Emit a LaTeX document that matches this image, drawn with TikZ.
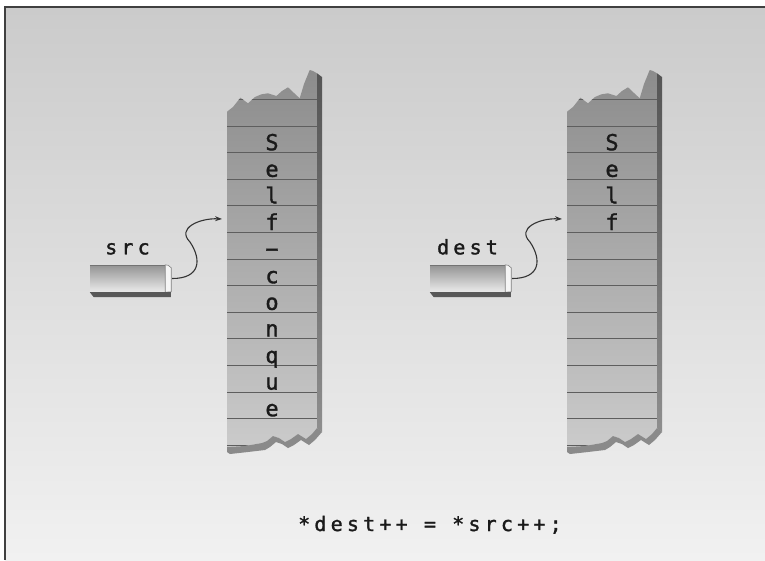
\documentclass[tikz,border=0pt]{standalone}
\usepackage{fontspec}
\usetikzlibrary{positioning,arrows.meta}
\newfontfamily\codigo[LetterSpace=21,FakeBold=1.5]{DejaVu Sans Mono}
\newfontfamily\celula[FakeBold=1.5]{DejaVu Sans Mono}
\definecolor{fundoTopo}{HTML}{CBCBCB}
\definecolor{fundoBase}{HTML}{F1F1F1}
\definecolor{memTopo}{HTML}{8A8A8A}
\definecolor{memBase}{HTML}{CDCDCD}
\definecolor{linha}{HTML}{5E5E5E}
\definecolor{lateralTopo}{HTML}{555555}
\definecolor{lateralBase}{HTML}{8E8E8E}
\definecolor{sombra}{HTML}{8A8A8A}
\definecolor{texto}{HTML}{1A1A1A}
\definecolor{corSeta}{HTML}{333333}
\tikzset{
  ponteiro/.style={minimum width=75pt, minimum height=27pt, inner sep=0pt,
    top color=black!42, bottom color=black!8},
  rotulo/.style={font=\codigo\fontsize{20}{24}\selectfont, text=texto, inner sep=0pt},
  letra/.style={font=\celula\fontsize{22}{26}\selectfont, text=texto, inner sep=0pt, anchor=base},
  apontar/.style={-{Stealth[length=7pt,width=5pt]}, line width=1.1pt, draw=corSeta},
}
\begin{document}
\begin{tikzpicture}[x=1pt,y=-1pt]
    \useasboundingbox (0,0) rectangle (765,560);
    % Fundo
    \fill[white] (0,0) rectangle (765,560);
    \shade[top color=fundoTopo,bottom color=fundoBase] (5,7) rectangle (765,560);
    \draw[line width=1.5pt,black!75] (5,560) -- (5,7) -- (765,7);
    % Colunas de memoria
    \foreach \xc in {227,567} {
      \begin{scope}[xshift=\xc pt]
        \begin{scope}
          \clip (0,111.7) -- (6,107) -- (13.4,97.7) -- (21,103.3) -- (28,97) -- (34.4,94.3)
            -- (41,93.3) -- (49.4,96) -- (55,91) -- (61,87.3) -- (67,93) -- (72.7,98.3)
            -- (77,84) -- (82.7,70) -- (86,71) -- (90,73.3) -- (90,428) -- (85,434)
            -- (79,439) -- (71,434) -- (64,439) -- (58,442) -- (52,438) -- (46,436)
            -- (40,441) -- (35,443) -- (18,446) -- (0,447) -- cycle;
          \shade[top color=memTopo,bottom color=memBase] (0,60) rectangle (90,460);
          \foreach \k in {0,...,13}
            \draw[linha,line width=0.9pt] (0,{99.5+26.6*\k}) -- (90,{99.5+26.6*\k});
        \end{scope}
        % Lado direito
        \shade[top color=lateralTopo,bottom color=lateralBase]
          (90,73.3) -- (95,77) -- (95,432) -- (90,428) -- cycle;
        % Sombra de baixo
        \fill[sombra] (0,447) -- (18,446) -- (35,443) -- (40,441) -- (46,436) -- (52,438)
          -- (58,442) -- (64,439) -- (71,434) -- (79,439) -- (85,434) -- (90,428)
          -- (95,432) -- (88,440) -- (82,445) -- (74,440) -- (67,445) -- (61,448)
          -- (55,444) -- (49,442) -- (43,447) -- (38,450) -- (21,452) -- (3,454)
          -- (0,452) -- cycle;
      \end{scope}
    }
    % Caracteres
    \foreach \c [count=\i] in {S,e,l,f,−,c,o,n,q,u,e}
      \node[letra] (a\i) at (272,{126.1+26.6*\i-2.5}) {\c};
    \foreach \c [count=\i] in {S,e,l,f}
      \node[letra] (b\i) at (612,{126.1+26.6*\i-2.5}) {\c};
    % Ponteiros
    \foreach \p/\xp in {src/127.5,dest/467.5} {
      \node[ponteiro] (\p) at (\xp,278.5) {};
      \draw[black!55] (\p.north west) -- (\p.north east);
      \filldraw[fill=black!4,draw=black!50,line width=0.6pt] (\p.north east) -- ++(3,0.5)
        -- ++(3,2.5) -- ++(0,24) -- (\p.south east) -- cycle;
      \fill[black!65] (\p.south west) -- ++(81,0) -- ++(0,5) -- ++(-77,0) -- cycle;
      \node[rotulo, above=10pt of \p] {\p};
    }
    % Setas
    \coordinate (meioSrc) at (190,242);
    \coordinate (alvoSrc) at (222,219);
    \draw[apontar] ([xshift=7pt]src.east) .. controls +(28,0) and +(12,18) .. (meioSrc)
      .. controls +(-14,-14) and +(-22,-1) .. (alvoSrc);
    \coordinate (meioDest) at (530,242);
    \coordinate (alvoDest) at (562,219);
    \draw[apontar] ([xshift=7pt]dest.east) .. controls +(28,0) and +(12,18) .. (meioDest)
      .. controls +(-14,-14) and +(-22,-1) .. (alvoDest);
    % Instrucao
    \node[rotulo, anchor=base west] (instrucao) at (298,531) {*dest++ = *src++;};
\end{tikzpicture}
\end{document}
